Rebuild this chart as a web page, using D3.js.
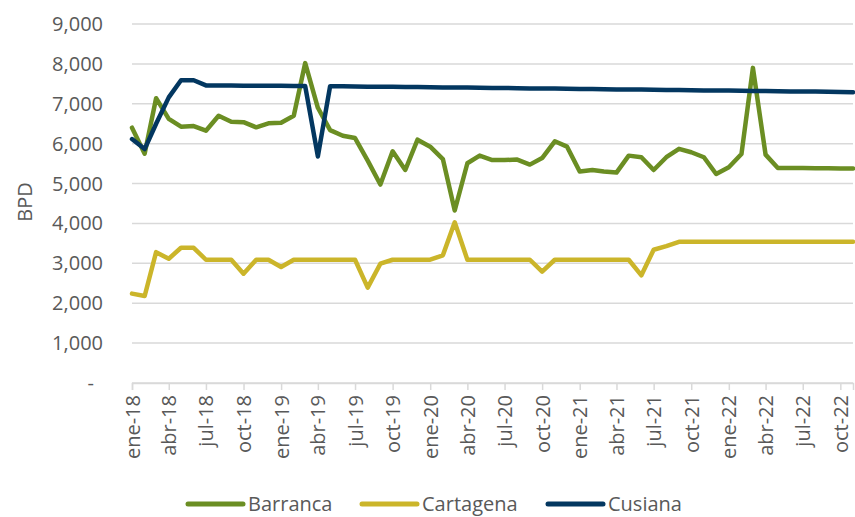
<!DOCTYPE html>
<html>
<head>
<meta charset="utf-8">
<script src="https://cdn.jsdelivr.net/npm/d3@7"></script>
<style>
  body { margin: 0; background: #fff; }
  text { font-family: "Open Sans", sans-serif; fill: #595959; }
</style>
</head>
<body>
<div id="chart"></div>
<script>
// Monthly data, ene-18 .. nov-22
const startMonth = new Date(Date.UTC(2018, 0, 1));
const monthNames = ["ene", "feb", "mar", "abr", "may", "jun", "jul", "ago", "sep", "oct", "nov", "dic"];

const barranca = [
    6400, 5750, 7140, 6620, 6425, 6440, 6325, 6700, 6550, 6540, 6410, 6510,
    6525, 6700, 8020, 6900, 6340, 6200, 6140, 5575, 4975, 5810, 5340, 6100,
    5925, 5615, 4325, 5510, 5700, 5590, 5590, 5600, 5475, 5640, 6060, 5925,
    5300, 5340, 5300, 5275, 5700, 5660, 5340, 5660, 5870, 5785, 5660, 5240,
    5410, 5740, 7900, 5725, 5390, 5390, 5390, 5385, 5385, 5380, 5375
];
const cartagena = [
    2240, 2180, 3280, 3115, 3390, 3390, 3090, 3090, 3090, 2740, 3090, 3090,
    2910, 3090, 3090, 3090, 3090, 3090, 3090, 2390, 2990, 3090, 3090, 3090,
    3090, 3200, 4030, 3090, 3090, 3090, 3090, 3090, 3090, 2790, 3090, 3090,
    3090, 3090, 3090, 3090, 3090, 2700, 3340, 3430, 3540, 3540, 3540, 3540,
    3540, 3540, 3540, 3540, 3540, 3540, 3540, 3540, 3540, 3540, 3540
];
const cusiana = [
    6115, 5865, 6500, 7160, 7590, 7590, 7460, 7460, 7460, 7455, 7455, 7450,
    7450, 7445, 7445, 5680, 7440, 7440, 7435, 7430, 7430, 7425, 7420, 7420,
    7415, 7410, 7410, 7405, 7400, 7395, 7395, 7390, 7385, 7385, 7380, 7375,
    7370, 7370, 7365, 7360, 7355, 7355, 7350, 7345, 7345, 7340, 7335, 7330,
    7330, 7325, 7320, 7320, 7315, 7310, 7305, 7305, 7300, 7295, 7290
];

const yTicks = [0, 1000, 2000, 3000, 4000, 5000, 6000, 7000, 8000, 9000];

const seriesInfo = [
    { name: "Barranca", values: barranca, color: "#6B8E23" },
    { name: "Cartagena", values: cartagena, color: "#CBB52A" },
    { name: "Cusiana", values: cusiana, color: "#033760" }
];

const dates = barranca.map((d, i) => d3.utcMonth.offset(startMonth, i));

const width = 855, height = 517;
const plot = { left: 132, right: 853, top: 24, bottom: 383 };

const svg = d3.select("#chart")
    .append("svg")
    .attr("width", width)
    .attr("height", height);

const x = d3.scaleUtc()
    .domain([dates[0], dates[dates.length - 1]])
    .range([plot.left, plot.right]);

const y = d3.scaleLinear()
    .domain([0, 9000])
    .range([plot.bottom, plot.top]);

// Gridlines
svg.append("g")
    .selectAll("line")
    .data(yTicks)
    .enter()
    .append("line")
    .attr("x1", plot.left)
    .attr("x2", plot.right)
    .attr("y1", d => y(d))
    .attr("y2", d => y(d))
    .style("stroke", "#d9d9d9")
    .style("stroke-width", 1.5);

// Y tick labels
svg.append("g")
    .selectAll("text")
    .data(yTicks)
    .enter()
    .append("text")
    .attr("x", d => d === 0 ? 94 : 103)
    .attr("y", d => y(d))
    .attr("dy", "0.35em")
    .style("text-anchor", "end")
    .style("font-size", "20px")
    .text(d => d === 0 ? "-" : d3.format(",")(d));

// Y axis title
svg.append("text")
    .attr("transform", "translate(32,202) rotate(-90)")
    .style("text-anchor", "middle")
    .style("font-size", "20px")
    .text("BPD");

// X axis
const xTicks = d3.utcMonth.every(3).range(dates[0], d3.utcMonth.offset(dates[dates.length - 1], 1));
const xAxis = d3.axisBottom(x)
    .tickValues(xTicks)
    .tickSize(7)
    .tickPadding(10)
    .tickFormat(d => monthNames[d.getUTCMonth()] + "-" + String(d.getUTCFullYear()).slice(2));

const xg = svg.append("g")
    .attr("transform", `translate(0,${plot.bottom})`)
    .call(xAxis);
xg.select(".domain").style("stroke", "#d9d9d9").style("stroke-width", 1.5);
xg.selectAll(".tick line").style("stroke", "#d9d9d9").style("stroke-width", 1.5);
xg.selectAll(".tick text")
    .attr("transform", "rotate(-90)")
    .attr("x", -12)
    .attr("y", 0)
    .attr("dy", "0.35em")
    .style("text-anchor", "end")
    .style("font-size", "20px")
    .style("font-family", "'Open Sans', sans-serif")
    .style("fill", "#595959");

// Lines
const line = d3.line()
    .x((d, i) => x(dates[i]))
    .y(d => y(d));

svg.append("g")
    .selectAll("path")
    .data(seriesInfo)
    .enter()
    .append("path")
    .attr("d", d => line(d.values))
    .style("fill", "none")
    .style("stroke", d => d.color)
    .style("stroke-width", 4.5)
    .style("stroke-linejoin", "round")
    .style("stroke-linecap", "round");

// Legend (kept just inside the bottom edge so descenders are not clipped)
const legendX = [188, 362, 548];
const legend = svg.append("g")
    .selectAll("g")
    .data(seriesInfo)
    .enter()
    .append("g")
    .attr("transform", (d, i) => `translate(${legendX[i]},504)`);

legend.append("line")
    .attr("x1", 0)
    .attr("x2", 55)
    .style("stroke", d => d.color)
    .style("stroke-width", 5)
    .style("stroke-linecap", "round");

legend.append("text")
    .attr("x", 60)
    .attr("y", 7)
    .style("font-size", "20px")
    .text(d => d.name);
</script>
</body>
</html>
